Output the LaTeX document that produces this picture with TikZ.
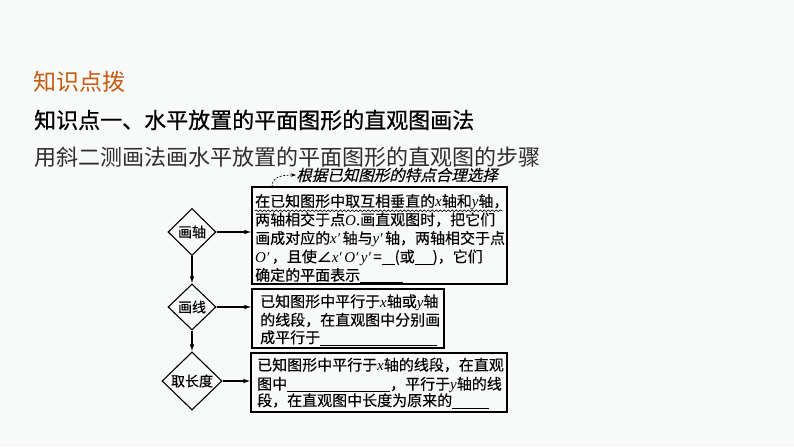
\documentclass[tikz,border=0pt]{standalone}
\usepackage{fontspec}
\setmainfont{Noto Sans CJK SC}
\newfontfamily\latf{Liberation Serif}
\newfontfamily\cjkbold[FakeBold=0.7]{Noto Sans CJK SC}
\newfontfamily\cjkslant[FakeSlant=0.25,FakeBold=0.3]{Noto Sans CJK SC}
\newfontfamily\cjkbox[FakeBold=0.25]{Noto Sans CJK SC}
\usetikzlibrary{shapes.geometric,arrows.meta,decorations.pathmorphing}
\definecolor{bg}{RGB}{247,250,248}
\definecolor{orangehd}{RGB}{197,90,17}
\definecolor{subgray}{RGB}{45,45,45}
\newcommand\vv[1]{{\latf\itshape #1}}
\newcommand\blank[1]{\rule[-2.2pt]{#1pt}{0.7pt}}
\begin{document}
\begin{tikzpicture}[x=1pt,y=-1pt,
  box/.style={draw, line width=1.1pt, inner sep=0pt, rectangle},
  dia/.style={draw, diamond, line width=1.1pt, inner sep=0pt, font=\cjkbox\fontsize{14}{14}\selectfont},
  txt/.style={anchor=base west, inner sep=0pt, font=\cjkbox\fontsize{15}{15}\selectfont},
  arr/.style={line width=1.1pt, -{Latex[length=7pt,width=4.5pt]}}]
\path[fill=bg] (0,0) rectangle (794,447);
\useasboundingbox (0,0) rectangle (794,447);

% headings
\node[anchor=west, inner sep=0pt, text=orangehd, font=\fontsize{23}{23}\selectfont] (kp) at (33,82) {知识点拨};
\node[anchor=west, inner sep=0pt, font=\cjkbold\fontsize{22}{22}\selectfont] (h1) at (34,120) {知识点一、水平放置的平面图形的直观图画法};
\node[anchor=west, inner sep=0pt, text=subgray, font=\fontsize{22}{22}\selectfont] (h2) at (34,157) {用斜二测画法画水平放置的平面图形的直观图的步骤};

% boxes
\node[box, minimum width=255pt, minimum height=97pt] (b1) at (379.5,235.5) {};
\node[box, minimum width=192pt, minimum height=59pt] (b2) at (348,318.5) {};
\node[box, minimum width=256pt, minimum height=59pt] (b3) at (379,382.5) {};

% diamonds
\node[dia, minimum width=48pt, minimum height=47pt] (d1) at (192,232) {画轴};
\node[dia, minimum width=48pt, minimum height=46pt] (d2) at (192,307) {画线};
\node[dia, minimum width=60pt, minimum height=58pt] (d3) at (192,381) {取长度};

% arrows
\draw[arr] (d1.east) -- (d1.east -| b1.west);
\draw[arr] (d2.east) -- (d2.east -| b2.west);
\draw[arr] (d3.east) -- (d3.east -| b3.west);
\draw[arr] (d1.south) -- (d2.north);
\draw[arr] (d2.south) -- (d3.north);

% annotation
\node[anchor=west, inner sep=0pt, font=\cjkslant\fontsize{15.5}{15.5}\selectfont] (note) at (296,175) {根据已知图形的特点合理选择};
\coordinate (ns) at (272,187);
\draw[line width=0.7pt, dash pattern=on 2pt off 1.5pt, -{Stealth[length=5pt,width=3.5pt]}] (ns) .. controls (272,178) and (279,175) .. (note.west);

% box 1 text
\node[txt] (l11) at (255,206.7) {在已知图形中取互相垂直的\vv{x}轴和\vv{y}轴，};
\node[txt] (l12) at (255,225.2) {两轴相交于点\vv{O}.画直观图时，把它们};
\node[txt] (l13) at (255,243.7) {画成对应的\vv{x′}\,轴与\vv{y′}\,轴，两轴相交于点};
\node[txt] (l14) at (255,262.2) {\vv{O′}\,，且使∠\vv{x′\,O′\,y′}\,=\blank{13}(或\blank{18})，它们};
\node[txt] (l15) at (255,280.7) {确定的平面表示\blank{43}};
\draw[line width=0.6pt, decorate, decoration={snake, amplitude=0.9pt, segment length=4pt}] (255,210.8) -- (503,210.8);

% box 2 text
\node[txt] (l21) at (260,307) {已知图形中平行于\vv{x}轴或\vv{y}轴};
\node[txt] (l22) at (260,325.5) {的线段，在直观图中分别画};
\node[txt] (l23) at (260,343) {成平行于\blank{117}};

% box 3 text
\node[txt] (l31) at (257,370.5) {已知图形中平行于\vv{x}轴的线段，在直观};
\node[txt] (l32) at (257,389.5) {图中\blank{103}，平行于\vv{y}轴的线};
\node[txt] (l33) at (257,406) {段，在直观图中长度为原来的\blank{37}};
\end{tikzpicture}
\end{document}
